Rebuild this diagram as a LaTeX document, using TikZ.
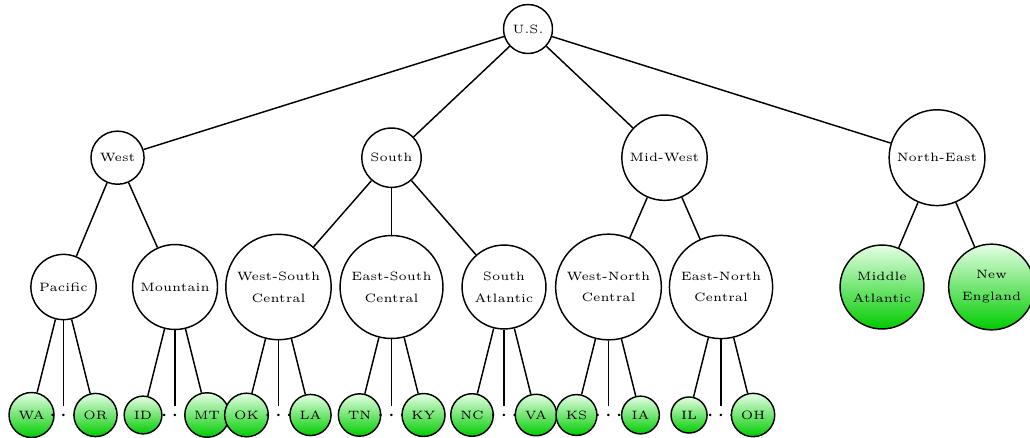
\documentclass[tikz,border=0pt]{standalone}
\usepackage{tikz}
\usetikzlibrary{positioning}

\begin{document}
\begin{tikzpicture}[font=\fontsize{5}{9}\selectfont,line width=0.6pt]
\tikzstyle{reg}=[draw,circle,inner sep=2.7pt,align=center]
\tikzstyle{st}=[reg,top color=green!10,bottom color=green!80!black]
\tikzstyle{dots}=[inner xsep=1pt,inner ysep=0pt,text height=6pt,text depth=0pt,font=\normalsize]
\useasboundingbox (0,0) rectangle (14.935,6.3365);
% root and census regions
\node[reg] (us) at (7.656,5.916) {U.S.};
\node[reg] (west) at (1.704,4.05) {West};
\node[reg] (south) at (5.677,4.05) {South};
\node[reg] (mw) at (9.635,4.05) {Mid-West};
\node[reg] (ne) at (13.587,4.05) {North-East};
% divisions
\node[reg] (pac) at (0.921,2.175) {Pacific};
\node[reg] (mtn) at (2.538,2.175) {Mountain};
\node[reg] (wsc) at (4.038,2.175) {West-South\\Central};
\node[reg] (esc) at (5.677,2.175) {East-South\\Central};
\node[reg] (sa) at (7.308,2.175) {South\\Atlantic};
\node[reg] (wnc) at (8.823,2.175) {West-North\\Central};
\node[reg] (enc) at (10.455,2.175) {East-North\\Central};
\node[st] (ma) at (12.789,2.175) {Middle\\Atlantic};
\node[st] (nen) at (14.377,2.175) {New\\England};
% states
\node[st] (wa) at (0.457,0.319) {WA};
\node[dots] (d1) at (0.921,0.335) {$\cdots$};
\node[st] (or) at (1.385,0.319) {OR};
\node[st] (id) at (2.074,0.319) {ID};
\node[dots] (d2) at (2.538,0.335) {$\cdots$};
\node[st] (mt) at (3.002,0.319) {MT};
\node[st] (ok) at (3.574,0.319) {OK};
\node[dots] (d3) at (4.038,0.335) {$\cdots$};
\node[st] (la) at (4.502,0.319) {LA};
\node[st] (tn) at (5.213,0.319) {TN};
\node[dots] (d4) at (5.677,0.335) {$\cdots$};
\node[st] (ky) at (6.141,0.319) {KY};
\node[st] (nc) at (6.844,0.319) {NC};
\node[dots] (d5) at (7.308,0.335) {$\cdots$};
\node[st] (va) at (7.772,0.319) {VA};
\node[st] (ks) at (8.359,0.319) {KS};
\node[dots] (d6) at (8.823,0.335) {$\cdots$};
\node[st] (ia) at (9.287,0.319) {IA};
\node[st] (il) at (9.991,0.319) {IL};
\node[dots] (d7) at (10.455,0.335) {$\cdots$};
\node[st] (oh) at (10.919,0.319) {OH};
% edges
\foreach \a/\b in {us/west,us/south,us/mw,us/ne,west/pac,west/mtn,south/wsc,south/esc,south/sa,mw/wnc,mw/enc,ne/ma,ne/nen,pac/wa,pac/d1,pac/or,mtn/id,mtn/d2,mtn/mt,wsc/ok,wsc/d3,wsc/la,esc/tn,esc/d4,esc/ky,sa/nc,sa/d5,sa/va,wnc/ks,wnc/d6,wnc/ia,enc/il,enc/d7,enc/oh} \draw (\a) -- (\b);
\end{tikzpicture}
\end{document}
